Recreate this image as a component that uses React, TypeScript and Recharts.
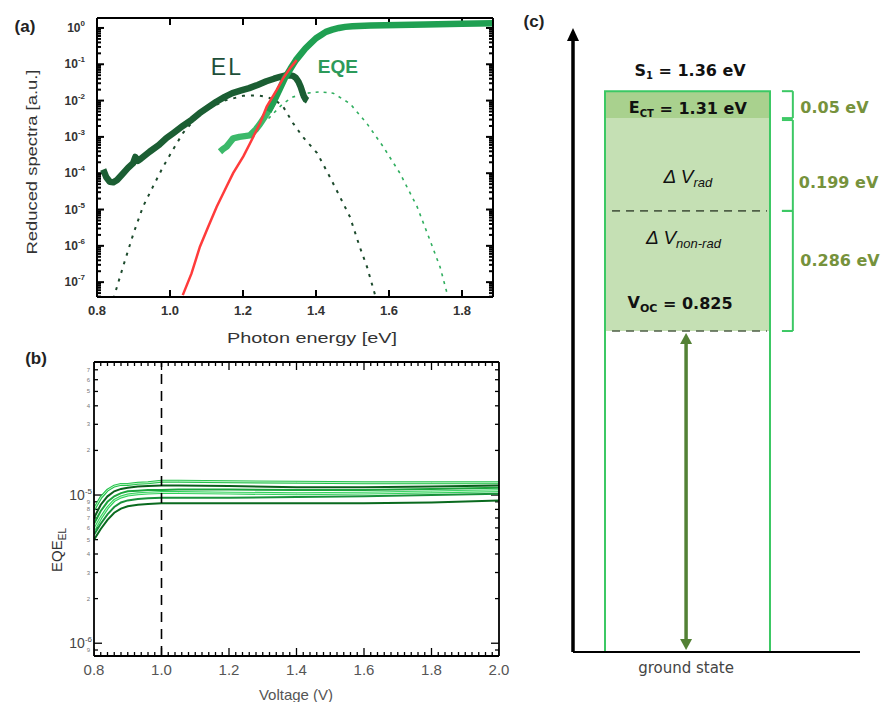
import React from 'react';
import {
  ComposedChart,
  Line,
  XAxis,
  YAxis,
  ReferenceLine,
  ReferenceArea,
  ReferenceDot,
} from 'recharts';

const FONT = '"Liberation Sans", Arial, Helvetica, sans-serif';
const FONT_C = '"DejaVu Sans", Verdana, sans-serif';

// ---------------- Panel (a): reduced EL / EQE spectra ----------------
const EL_ENERGY = [0.817, 0.825, 0.835, 0.845, 0.855, 0.87, 0.885, 0.899, 0.905, 0.912, 0.92, 0.944, 0.97, 0.99, 1.01, 1.035, 1.06, 1.081, 1.105, 1.127, 1.15, 1.171, 1.195, 1.217, 1.24, 1.264, 1.285, 1.299, 1.315, 1.326, 1.337, 1.345, 1.352, 1.358, 1.363, 1.367, 1.372, 1.377];
const EL_SPECTRUM = [1.26e-4, 7.9e-5, 5.8e-5, 5.6e-5, 6.5e-5, 9.5e-5, 1.4e-4, 1.9e-4, 2.8e-4, 2.2e-4, 2.5e-4, 3.9e-4, 6.0e-4, 9.3e-4, 1.3e-3, 2.0e-3, 3.0e-3, 4.5e-3, 6.6e-3, 9.3e-3, 1.26e-2, 1.6e-2, 1.9e-2, 2.2e-2, 2.7e-2, 3.4e-2, 4.0e-2, 4.4e-2, 4.9e-2, 5.0e-2, 4.8e-2, 4.2e-2, 3.3e-2, 2.4e-2, 1.7e-2, 1.3e-2, 1.07e-2, 1.0e-2];

const EQE_LOW_ENERGY = [1.137, 1.145, 1.155, 1.164, 1.173, 1.19, 1.205, 1.219, 1.235, 1.247, 1.266, 1.284];
const EQE_LOW = [3.9e-4, 4.6e-4, 5.4e-4, 7.0e-4, 9.1e-4, 1.0e-3, 1.05e-3, 1.1e-3, 1.6e-3, 2.3e-3, 4.5e-3, 9.3e-3];

const EQE_ENERGY = [1.27, 1.284, 1.3, 1.315, 1.33, 1.345, 1.36, 1.372, 1.386, 1.4, 1.415, 1.427, 1.445, 1.463, 1.48, 1.5, 1.55, 1.626, 1.7, 1.8, 1.885];
const EQE_VALUES = [5.0e-3, 9.3e-3, 2.0e-2, 4.2e-2, 7.5e-2, 0.13, 0.2, 0.28, 0.38, 0.52, 0.65, 0.78, 0.9, 1.0, 1.07, 1.12, 1.17, 1.2, 1.25, 1.3, 1.35];

const FIT_ENERGY = [1.035, 1.059, 1.082, 1.105, 1.128, 1.155, 1.173, 1.201, 1.219, 1.247, 1.265, 1.292, 1.31, 1.329, 1.347];
const FIT_VALUES = [4.4e-8, 1.74e-7, 9.5e-7, 3.4e-6, 1.2e-5, 4.3e-5, 1.0e-4, 2.9e-4, 6.6e-4, 2.4e-3, 6.8e-3, 1.95e-2, 4.1e-2, 7.8e-2, 0.13];

const EL_GAUSS_ENERGY = [0.845, 0.871, 0.9, 0.926, 0.953, 0.981, 1.008, 1.036, 1.07, 1.1, 1.15, 1.2, 1.24, 1.266, 1.29, 1.31, 1.337, 1.364, 1.403, 1.438, 1.466, 1.493, 1.52, 1.54, 1.562];
const EL_GAUSS = [3.5e-8, 2.6e-7, 2.2e-6, 1.2e-5, 4.2e-5, 1.5e-4, 4.4e-4, 1.3e-3, 3.2e-3, 5.6e-3, 1.0e-2, 1.35e-2, 1.4e-2, 1.26e-2, 1.0e-2, 6.8e-3, 2.4e-3, 1.0e-3, 3.6e-4, 7.9e-5, 2.2e-5, 6.3e-6, 9.3e-7, 2.6e-7, 4.4e-8];

const EQE_GAUSS_ENERGY = [1.27, 1.284, 1.31, 1.337, 1.375, 1.41, 1.447, 1.493, 1.54, 1.584, 1.63, 1.677, 1.712, 1.74, 1.759, 1.765];
const EQE_GAUSS = [3.2e-3, 4.5e-3, 8.3e-3, 1.26e-2, 1.6e-2, 1.74e-2, 1.6e-2, 8.3e-3, 2.3e-3, 5.4e-4, 1.0e-4, 1.2e-5, 1.45e-6, 2.6e-7, 5e-8, 3e-8];

const A_X_TICKS = [0.8, 1.0, 1.2, 1.4, 1.6, 1.8];
const A_Y_DECADES = [1e-7, 1e-6, 1e-5, 1e-4, 1e-3, 1e-2, 1e-1, 1];
const A_Y_DOMAIN = [3.9e-8, 1.88];
const A_X_DOMAIN = [0.8, 1.885];

// ---------------- Panel (b): EQE_EL vs voltage ----------------
const VOLTAGE = [0.8, 0.82, 0.84, 0.86, 0.88, 0.9, 0.93, 0.96, 1.0, 1.05, 1.2, 1.4, 1.6, 1.8, 2.0];
const EQE_EL_1 = [8.0e-6, 9.6e-6, 1.08e-5, 1.15e-5, 1.18e-5, 1.18e-5, 1.2e-5, 1.21e-5, 1.24e-5, 1.24e-5, 1.23e-5, 1.22e-5, 1.21e-5, 1.21e-5, 1.21e-5];
const EQE_EL_2 = [7.0e-6, 8.6e-6, 9.8e-6, 1.06e-5, 1.1e-5, 1.12e-5, 1.14e-5, 1.15e-5, 1.16e-5, 1.16e-5, 1.15e-5, 1.13e-5, 1.13e-5, 1.14e-5, 1.16e-5];
const EQE_EL_3 = [6.4e-6, 7.8e-6, 9.0e-6, 9.8e-6, 1.03e-5, 1.06e-5, 1.07e-5, 1.08e-5, 1.08e-5, 1.09e-5, 1.09e-5, 1.08e-5, 1.08e-5, 1.1e-5, 1.12e-5];
const EQE_EL_4 = [5.8e-6, 7.0e-6, 8.2e-6, 9.2e-6, 9.7e-6, 1.0e-5, 1.02e-5, 1.03e-5, 1.04e-5, 1.04e-5, 1.03e-5, 1.02e-5, 1.03e-5, 1.05e-5, 1.07e-5];
const EQE_EL_5 = [5.4e-6, 6.4e-6, 7.4e-6, 8.3e-6, 8.9e-6, 9.2e-6, 9.4e-6, 9.5e-6, 9.6e-6, 9.6e-6, 9.6e-6, 9.7e-6, 9.8e-6, 1.0e-5, 1.02e-5];
const EQE_EL_6 = [5.0e-6, 5.9e-6, 6.8e-6, 7.6e-6, 8.1e-6, 8.4e-6, 8.6e-6, 8.7e-6, 8.8e-6, 8.8e-6, 8.8e-6, 8.8e-6, 8.8e-6, 8.9e-6, 9.2e-6];
const B_SERIES = [EQE_EL_1, EQE_EL_2, EQE_EL_3, EQE_EL_4, EQE_EL_5, EQE_EL_6];
const B_COLORS = ['#22c24a', '#0b5e1c', '#1aa53b', '#2fd05a', '#17913a', '#0a6a1f'];
const B_HOLLOW = [true, false, false, true, false, false];

const B_X_TICKS = [0.8, 1.0, 1.2, 1.4, 1.6, 1.8, 2.0];
const B_Y_DECADES = [1e-6, 1e-5];
const B_Y_DOMAIN = [8.2e-7, 7.9e-5];
const B_X_DOMAIN = [0.8, 2.0];
const B_MARKER_V = 1.0;

// ---------------- Panel (c): energy-level diagram ----------------
// schematic level heights (diagram units, ground state = 0)
const LEVEL_GROUND = 0;
const LEVEL_VOC = 0.823;
const LEVEL_SPLIT = 1.131;
const LEVEL_ECT = 1.369;
const LEVEL_S1 = 1.438;
const LEVELS = [LEVEL_GROUND, LEVEL_VOC, LEVEL_SPLIT, LEVEL_ECT, LEVEL_S1];
const LOSS_LABELS = ['0.05 eV', '0.199 eV', '0.286 eV'];

// --------------- helpers ---------------
const zip = (xs: number[], ys: number[]) => xs.map((x, i) => ({ x, y: ys[i] }));

const logMinor = (decades: number[], lo: number, hi: number) => {
  const out: number[] = [];
  const all = [decades[0] / 10, ...decades];
  all.forEach((d) => {
    for (let m = 2; m <= 9; m++) {
      const v = d * m;
      if (v >= lo && v <= hi) out.push(v);
    }
  });
  return out.sort((a, b) => a - b);
};
const linMinor = (majors: number[], n: number) => {
  const out: number[] = [];
  for (let i = 0; i < majors.length - 1; i++) {
    for (let k = 1; k < n; k++) out.push(+(majors[i] + (k * (majors[i + 1] - majors[i])) / n).toFixed(4));
  }
  return out;
};
const noLabel = () => <g />;

// inward tick marks: each one a tiny two-point series through the chart's own scales
function frameTicks(
  key: string, xDom: number[], yDom: number[], plotW: number, plotH: number,
  xMaj: number[], xMin: number[], yMaj: number[], yMin: number[],
  majLen: number, minLen: number, w: number
) {
  const dxPerPx = (xDom[1] - xDom[0]) / plotW;
  const dlogPerPx = (Math.log10(yDom[1]) - Math.log10(yDom[0])) / plotH;
  const out: React.ReactNode[] = [];
  let n = 0;
  const seg = (ax: number, ay: number, bx: number, by: number) => {
    out.push(
      <Line key={key + n++} xAxisId="b" yAxisId="l" data={[{ x: ax, y: ay }, { x: bx, y: by }]} dataKey="y"
        type="linear" dot={false} activeDot={false} isAnimationActive={false} stroke="#000" strokeWidth={w} strokeLinecap="butt" />
    );
  };
  const yTick = (v: number, len: number) => {
    seg(xDom[0], v, xDom[0] + len * dxPerPx, v);
    seg(xDom[1] - len * dxPerPx, v, xDom[1], v);
  };
  const xTick = (u: number, len: number) => {
    const f = Math.pow(10, len * dlogPerPx);
    seg(u, yDom[0], u, yDom[0] * f);
    seg(u, yDom[1] / f, u, yDom[1]);
  };
  yMaj.forEach((v) => yTick(v, majLen));
  yMin.forEach((v) => yTick(v, minLen));
  xMaj.forEach((u) => xTick(u, majLen));
  xMin.forEach((u) => xTick(u, minLen));
  return out;
}

// ---------------- Panel A ----------------
function PanelA() {
  const yMinor = logMinor(A_Y_DECADES, A_Y_DOMAIN[0], A_Y_DOMAIN[1]);
  const yLabel = (p: any) => (
    <text x={p.x - 12} y={p.y + 4} textAnchor="end" fontSize={12} fontWeight="bold" fill="#333" fontFamily={FONT}>
      10<tspan dy={-6} fontSize={8}>{String(Math.round(Math.log10(p.payload.value)))}</tspan>
    </text>
  );
  const xLabel = (p: any) => (
    <text x={p.x} y={p.y + 18} textAnchor="middle" fontSize={13} fontWeight="bold" fill="#333" fontFamily={FONT}>
      {Number(p.payload.value).toFixed(1)}
    </text>
  );
  const axisLine = { stroke: '#000', strokeWidth: 2 };
  const common = { isAnimationActive: false, dot: false, xAxisId: 'b', yAxisId: 'l', dataKey: 'y', type: 'linear' as const };
  return (
    <ComposedChart width={520} height={340} margin={{ top: 17, left: 96, right: 26, bottom: 42 }}>
      <XAxis xAxisId="b" type="number" dataKey="x" domain={A_X_DOMAIN} allowDataOverflow ticks={A_X_TICKS} interval={0}
        height={1} tickSize={0} tickMargin={0} axisLine={axisLine} tickLine={false} tick={xLabel} />
      <XAxis xAxisId="t" orientation="top" type="number" dataKey="x" domain={A_X_DOMAIN} allowDataOverflow ticks={A_X_TICKS} interval={0}
        height={1} tickSize={0} tickMargin={0} axisLine={axisLine} tickLine={false} tick={noLabel} />
      <YAxis yAxisId="l" type="number" scale="log" domain={A_Y_DOMAIN} allowDataOverflow ticks={A_Y_DECADES} interval={0}
        width={1} tickSize={0} tickMargin={0} axisLine={axisLine} tickLine={false} tick={yLabel} />
      <YAxis yAxisId="r" orientation="right" type="number" scale="log" domain={A_Y_DOMAIN} allowDataOverflow ticks={A_Y_DECADES} interval={0}
        width={1} tickSize={0} tickMargin={0} axisLine={axisLine} tickLine={false} tick={noLabel} />
      {frameTicks('a', A_X_DOMAIN, A_Y_DOMAIN, 396, 279, A_X_TICKS, [], A_Y_DECADES, yMinor, 7, 4, 2)}
      <Line {...common} data={zip(EL_GAUSS_ENERGY, EL_GAUSS)} stroke="#1c4a2c" strokeWidth={2} strokeDasharray="3 6" />
      <Line {...common} data={zip(EQE_GAUSS_ENERGY, EQE_GAUSS)} stroke="#2fae5e" strokeWidth={1.6} strokeDasharray="3 5" />
      <Line {...common} data={zip(EL_ENERGY, EL_SPECTRUM)} stroke="#1b5e33" strokeWidth={6.5} strokeLinejoin="round" />
      <Line {...common} data={zip(EQE_LOW_ENERGY, EQE_LOW)} stroke="#3cb96a" strokeWidth={6.5} strokeLinejoin="round" />
      <Line {...common} data={zip(EQE_ENERGY, EQE_VALUES)} stroke="#20a052" strokeWidth={6.5} strokeLinejoin="round" />
      <Line {...common} data={zip(FIT_ENERGY, FIT_VALUES)} stroke="#ff3b3b" strokeWidth={2.5} />
      <ReferenceDot xAxisId="b" yAxisId="l" x={1.156} y={0.085} r={0}
        shape={(p: any) => (
          <text x={p.cx} y={p.cy} textAnchor="middle" dominantBaseline="central" fontSize={23} fill="#1d4f3a" fontFamily={FONT} letterSpacing={2}>EL</text>
        )} />
      <ReferenceDot xAxisId="b" yAxisId="l" x={1.46} y={0.085} r={0}
        shape={(p: any) => (
          <text x={p.cx} y={p.cy} textAnchor="middle" dominantBaseline="central" fontSize={19} fontWeight="bold" fill="#2c9a5a" fontFamily={FONT}>EQE</text>
        )} />
    </ComposedChart>
  );
}

// ---------------- Panel B ----------------
function PanelB() {
  const yMinor = logMinor(B_Y_DECADES, B_Y_DOMAIN[0], B_Y_DOMAIN[1]);
  const yAll = [...yMinor, ...B_Y_DECADES].sort((a, b) => a - b);
  const xMinor = linMinor(B_X_TICKS, 10);
  const isDec = (v: number) => Math.abs(Math.log10(v) - Math.round(Math.log10(v))) < 1e-6;
  const yLabel = (p: any) => {
    const v = p.payload.value;
    if (isDec(v))
      return (
        <text x={p.x - 2} y={p.y + 5} textAnchor="end" fontSize={14} fill="#444" fontFamily={FONT}>
          10<tspan dy={-6} fontSize={8}>{String(Math.round(Math.log10(v)))}</tspan>
        </text>
      );
    const m = Math.round(v / Math.pow(10, Math.floor(Math.log10(v) + 1e-9)));
    return (
      <text x={p.x - 4} y={p.y + 2} textAnchor="end" fontSize={6} fill="#777" fontFamily={FONT}>{m}</text>
    );
  };
  const xLabel = (p: any) => (
    <text x={p.x} y={p.y + 19} textAnchor="middle" fontSize={15} fill="#555" fontFamily={FONT}>{Number(p.payload.value).toFixed(1)}</text>
  );
  const axisLine = { stroke: '#000', strokeWidth: 1.8 };
  return (
    <ComposedChart width={520} height={362} margin={{ top: 21, left: 93, right: 20, bottom: 45 }}>
      <XAxis xAxisId="b" type="number" dataKey="x" domain={B_X_DOMAIN} allowDataOverflow ticks={B_X_TICKS} interval={0}
        height={1} tickSize={0} tickMargin={0} axisLine={axisLine} tickLine={false} tick={xLabel} />
      <XAxis xAxisId="t" orientation="top" type="number" dataKey="x" domain={B_X_DOMAIN} allowDataOverflow ticks={B_X_TICKS} interval={0}
        height={1} tickSize={0} tickMargin={0} axisLine={axisLine} tickLine={false} tick={noLabel} />
      <YAxis yAxisId="l" type="number" scale="log" domain={B_Y_DOMAIN} allowDataOverflow ticks={yAll} interval={0}
        width={1} tickSize={0} tickMargin={0} axisLine={axisLine} tickLine={false} tick={yLabel} />
      <YAxis yAxisId="r" orientation="right" type="number" scale="log" domain={B_Y_DOMAIN} allowDataOverflow ticks={B_Y_DECADES} interval={0}
        width={1} tickSize={0} tickMargin={0} axisLine={axisLine} tickLine={false} tick={noLabel} />
      {frameTicks('b', B_X_DOMAIN, B_Y_DOMAIN, 405, 294, B_X_TICKS, xMinor, B_Y_DECADES, yMinor, 8, 4, 1.3)}
      {B_SERIES.map((s, i) => (
        <Line key={'s' + i} xAxisId="b" yAxisId="l" data={zip(VOLTAGE, s)} dataKey="y" type="linear" dot={false}
          isAnimationActive={false} stroke={B_COLORS[i]} strokeWidth={B_HOLLOW[i] ? 3 : 2} />
      ))}
      {B_SERIES.map((s, i) =>
        B_HOLLOW[i] ? (
          <Line key={'h' + i} xAxisId="b" yAxisId="l" data={zip(VOLTAGE, s)} dataKey="y" type="linear" dot={false}
            isAnimationActive={false} stroke="#e8ffe8" strokeWidth={0.8} />
        ) : null
      )}
      <ReferenceLine xAxisId="b" yAxisId="l" x={B_MARKER_V} stroke="#000" strokeWidth={1.6} strokeDasharray="10 7" />
    </ComposedChart>
  );
}

// ---------------- Panel C ----------------
function PanelC() {
  const boxL = 1.115;
  const boxR = 6.864;
  const dashL = 1.36;
  const dashR = 6.76;
  const arrowX = 3.94;
  const brIn = 7.28;
  const brOut = 7.66;
  const txtX = 7.92;
  const midX = 4.0;
  const green = '#3cc864';
  const olive = '#76923c';
  const head = (color: string, w: number, h: number, up: boolean) => (p: any) => (
    <polygon
      points={up
        ? `${p.cx},${p.cy} ${p.cx - w},${p.cy + h} ${p.cx + w},${p.cy + h}`
        : `${p.cx},${p.cy} ${p.cx - w},${p.cy - h} ${p.cx + w},${p.cy - h}`}
      fill={color}
    />
  );
  const txt = (node: React.ReactNode, anchor: string, extra: any = {}) => (p: any) => (
    <text x={p.cx} y={p.cy} textAnchor={anchor} dominantBaseline="central" fontFamily={FONT_C} {...extra}>{node}</text>
  );
  const bracket = (top: number, bottom: number, key: string) => [
    <ReferenceLine key={key + 'v'} segment={[{ x: brOut, y: top }, { x: brOut, y: bottom }]} stroke={green} strokeWidth={2} />,
    <ReferenceLine key={key + 't'} segment={[{ x: brIn, y: top }, { x: brOut, y: top }]} stroke={green} strokeWidth={2} />,
    <ReferenceLine key={key + 'b'} segment={[{ x: brIn, y: bottom }, { x: brOut, y: bottom }]} stroke={green} strokeWidth={2} />,
  ];
  const bold = { fontSize: 16, fontWeight: 'bold', fill: '#111' };
  const loss = { fontSize: 16, fontWeight: 'bold', fill: olive };
  return (
    <ComposedChart width={370} height={702} margin={{ top: 28, left: 53, right: 30, bottom: 50 }}>
      <XAxis type="number" dataKey="x" domain={[0, 10]} allowDataOverflow hide />
      <YAxis type="number" domain={[0, 1.6]} allowDataOverflow hide />
      <Line data={LEVELS.map((y) => ({ x: 0, y }))} dataKey="y" stroke="none" dot={false} isAnimationActive={false} />
      <ReferenceArea x1={boxL} x2={boxR} y1={LEVEL_VOC} y2={LEVEL_ECT} fill="#c5e0b4" fillOpacity={1} stroke="none" />
      <ReferenceArea x1={boxL} x2={boxR} y1={LEVEL_ECT} y2={LEVEL_S1} fill="#a9d18e" fillOpacity={1} stroke="none" />
      <ReferenceLine segment={[{ x: 0, y: LEVEL_GROUND }, { x: 10, y: LEVEL_GROUND }]} stroke="#000" strokeWidth={2} />
      <ReferenceArea x1={boxL} x2={boxR} y1={LEVEL_GROUND} y2={LEVEL_S1} fill="none" fillOpacity={0} stroke={green} strokeWidth={2} />
      <ReferenceLine segment={[{ x: dashL, y: LEVEL_SPLIT }, { x: dashR, y: LEVEL_SPLIT }]} stroke="#4f5f47" strokeWidth={1.6} strokeDasharray="8 6" />
      <ReferenceLine segment={[{ x: dashL, y: LEVEL_VOC }, { x: dashR, y: LEVEL_VOC }]} stroke="#4f5f47" strokeWidth={1.6} strokeDasharray="8 6" />
      <ReferenceLine segment={[{ x: 0, y: LEVEL_GROUND }, { x: 0, y: 1.57 }]} stroke="#000" strokeWidth={3.5} />
      <ReferenceDot x={0} y={1.6} r={0} shape={head('#000', 6, 13, true)} />
      <ReferenceLine segment={[{ x: arrowX, y: 0.02 }, { x: arrowX, y: 0.8 }]} stroke="#538135" strokeWidth={3.5} />
      <ReferenceDot x={arrowX} y={0.818} r={0} shape={head('#538135', 6, 11, true)} />
      <ReferenceDot x={arrowX} y={0.005} r={0} shape={head('#538135', 6, 11, false)} ifOverflow="visible" />
      {bracket(LEVEL_S1, LEVEL_ECT, 'b1')}
      {bracket(1.364, LEVEL_SPLIT, 'b2')}
      {bracket(LEVEL_SPLIT, LEVEL_VOC, 'b3')}
      <ReferenceDot x={4.08} y={1.492} r={0}
        shape={txt(<>S<tspan fontSize={10} dy={5}>1</tspan><tspan dy={-5}> = 1.36 eV</tspan></>, 'middle', bold)} />
      <ReferenceDot x={midX} y={1.395} r={0}
        shape={txt(<>E<tspan fontSize={10} dy={5}>CT</tspan><tspan dy={-5}> = 1.31 eV</tspan></>, 'middle', bold)} />
      <ReferenceDot x={midX} y={1.218} r={0}
        shape={txt(<>Δ V<tspan fontSize={13} dy={5}>rad</tspan></>, 'middle', { fontSize: 19, fontStyle: 'italic', fill: '#111', fontFamily: FONT })} />
      <ReferenceDot x={3.85} y={1.062} r={0}
        shape={txt(<>Δ V<tspan fontSize={13} dy={5}>non-rad</tspan></>, 'middle', { fontSize: 19, fontStyle: 'italic', fill: '#111', fontFamily: FONT })} />
      <ReferenceDot x={3.73} y={0.895} r={0}
        shape={txt(<>V<tspan fontSize={11} dy={5}>OC</tspan><tspan dy={-5}> = 0.825</tspan></>, 'middle', bold)} />
      <ReferenceDot x={txtX} y={1.395} r={0} shape={txt(LOSS_LABELS[0], 'start', loss)} />
      <ReferenceDot x={7.87} y={1.205} r={0} shape={txt(LOSS_LABELS[1], 'start', loss)} />
      <ReferenceDot x={txtX} y={1.005} r={0} shape={txt(LOSS_LABELS[2], 'start', loss)} />
      <ReferenceDot x={arrowX} y={-0.041} r={0} ifOverflow="visible"
        shape={txt('ground state', 'middle', { fontSize: 15, fill: '#444' })} />
    </ComposedChart>
  );
}

export default function App() {
  return (
    <div style={{ position: 'absolute', left: 0, top: 0, width: 890, height: 702, background: '#fff', overflow: 'hidden', fontFamily: FONT }}>
      <div style={{ position: 'absolute', left: 0, top: 0 }}><PanelA /></div>
      <div style={{ position: 'absolute', left: 0, top: 340 }}><PanelB /></div>
      <div style={{ position: 'absolute', left: 520, top: 0 }}><PanelC /></div>
      <svg width={890} height={702} style={{ position: 'absolute', left: 0, top: 0, pointerEvents: 'none' }}>
        <g fontFamily={FONT}>
          <text x={25} y={32} textAnchor="middle" fontSize={17} fontWeight="bold" fill="#222">(a)</text>
          <text x={36} y={364} textAnchor="middle" fontSize={17} fontWeight="bold" fill="#222">(b)</text>
          <text x={534} y={27} textAnchor="middle" fontSize={17} fontWeight="bold" fill="#222">(c)</text>
          <text transform="translate(37,162) rotate(-90)" textAnchor="middle" fontSize={15} fill="#333"
            textLength={185} lengthAdjust="spacingAndGlyphs">Reduced spectra [a.u.]</text>
          <text x={312} y={343} textAnchor="middle" fontSize={15} fill="#333"
            textLength={170} lengthAdjust="spacingAndGlyphs">Photon energy [eV]</text>
          <text transform="translate(62,550) rotate(-90)" textAnchor="middle" fontSize={15} fill="#333">
            EQE<tspan fontSize={10} dy={4}>EL</tspan>
          </text>
          <text x={296} y={700} textAnchor="middle" fontSize={15} fill="#555">Voltage (V)</text>
        </g>
      </svg>
    </div>
  );
}
